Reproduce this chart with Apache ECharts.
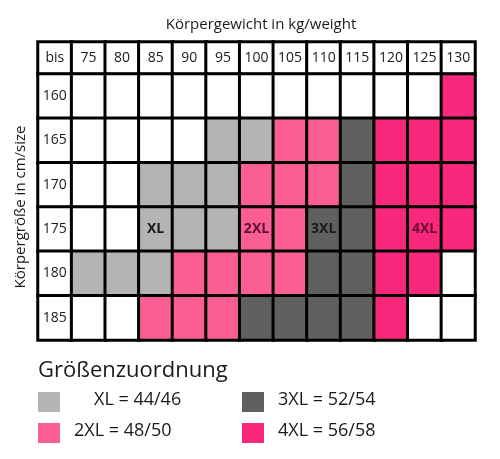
<!DOCTYPE html>
<html><head><meta charset="utf-8">
<script src="https://cdn.jsdelivr.net/npm/echarts@6/dist/echarts.min.js"></script>
<style>html,body{margin:0;padding:0;background:#fff}#c{width:500px;height:459px}</style>
</head><body><div id="c"></div>
<script>
const weights = ['75','80','85','90','95','100','105','110','115','120','125','130'];
const heights = ['160','165','170','175','180','185'];
// 0 = none, 1 = XL, 2 = 2XL, 3 = 3XL, 4 = 4XL
const sizeGrid = [
  [0,0,0,0,0,0,0,0,0,0,0,4],
  [0,0,0,0,1,1,2,2,3,4,4,4],
  [0,0,1,1,1,2,2,2,3,4,4,4],
  [0,0,1,1,1,2,2,3,3,4,4,4],
  [1,1,1,2,2,2,2,3,3,4,4,0],
  [0,0,2,2,2,3,3,3,3,4,0,0]
];
const sizeNames = ['', 'XL', '2XL', '3XL', '4XL'];
const sizeValues = ['', '44/46', '48/50', '52/54', '56/58'];
const cellLabels = [['85','175','XL'],['100','175','2XL'],['110','175','3XL'],['125','175','4XL']];

const colors = ['#ffffff','#b4b4b4','#fa5e94','#606060','#f9287c'];
const xCats = ['bis'].concat(weights);
const F = '"Open Sans", sans-serif';

const headerData = xCats.map((c,i)=>({value:[i,0,0], name:c}));
const mainData = [];
heights.forEach((h,r)=>{
  mainData.push({value:[0,r,0], label:{show:true, formatter:h}});
  weights.forEach((w,c)=>{
    const s = sizeGrid[r][c];
    const lab = cellLabels.find(l=>l[0]===w && l[1]===h);
    mainData.push({value:[c+1,r,s], itemStyle:{color:colors[s]},
      label:{show:!!lab, formatter: lab?lab[2]:'', fontWeight:'bold', color: s===2?'#5a1030':(s===4?'#6a0a35':'#1a1a1a')}});
  });
});

const cellStyle = {borderColor:'#000', borderWidth:3, color:'#fff'};
const legendItems = [1,3,2,4];
const graphics = [];
legendItems.forEach((s,i)=>{
  const col = i%2, row = Math.floor(i/2);
  const x = 38 + col*204, y = 392 + row*31;
  graphics.push({type:'rect', left:x, top:y, shape:{width:22,height:20}, style:{fill:colors[s]}});
  graphics.push({type:'text', left:x+36+(s===1?20:0), top:y-1, style:{text:sizeNames[s]+' = '+sizeValues[s], font:'18px '+F, fill:'#1a1a1a'}});
});
graphics.push({type:'text', left:38, top:360, style:{text:'Größenzuordnung', font:'22px '+F, fill:'#1a1a1a'}});

const chart = echarts.init(document.getElementById('c'));
chart.setOption({
  animation:false,
  title:{text:'Körpergewicht in kg/weight', left:256, top:12, textAlign:'center',
    textStyle:{fontFamily:F, fontSize:15, fontWeight:'normal', color:'#1a1a1a'}},
  grid:[{left:38, width:437, top:42, height:32},{left:38, width:437, top:74, height:266}],
  xAxis:[{type:'category', data:xCats, gridIndex:0, show:false},
         {type:'category', data:xCats, gridIndex:1, show:false}],
  yAxis:[{type:'category', data:['h'], gridIndex:0, show:false},
         {type:'category', data:heights, gridIndex:1, inverse:true, show:true,
          name:'Körpergröße in cm/size', nameLocation:'middle', nameGap:10, nameRotate:90,
          nameTextStyle:{fontFamily:F, fontSize:15, color:'#1a1a1a'},
          axisLine:{show:false}, axisTick:{show:false}, axisLabel:{show:false}}],
  series:[
    {type:'heatmap', xAxisIndex:0, yAxisIndex:0, data:headerData, itemStyle:cellStyle,
     label:{show:true, formatter:p=>p.name, fontFamily:F, fontSize:14, color:'#1a1a1a'}},
    {type:'heatmap', xAxisIndex:1, yAxisIndex:1, data:mainData, itemStyle:cellStyle,
     label:{fontFamily:F, fontSize:14, color:'#1a1a1a'}}
  ],
  graphic:graphics
});
</script></body></html>
